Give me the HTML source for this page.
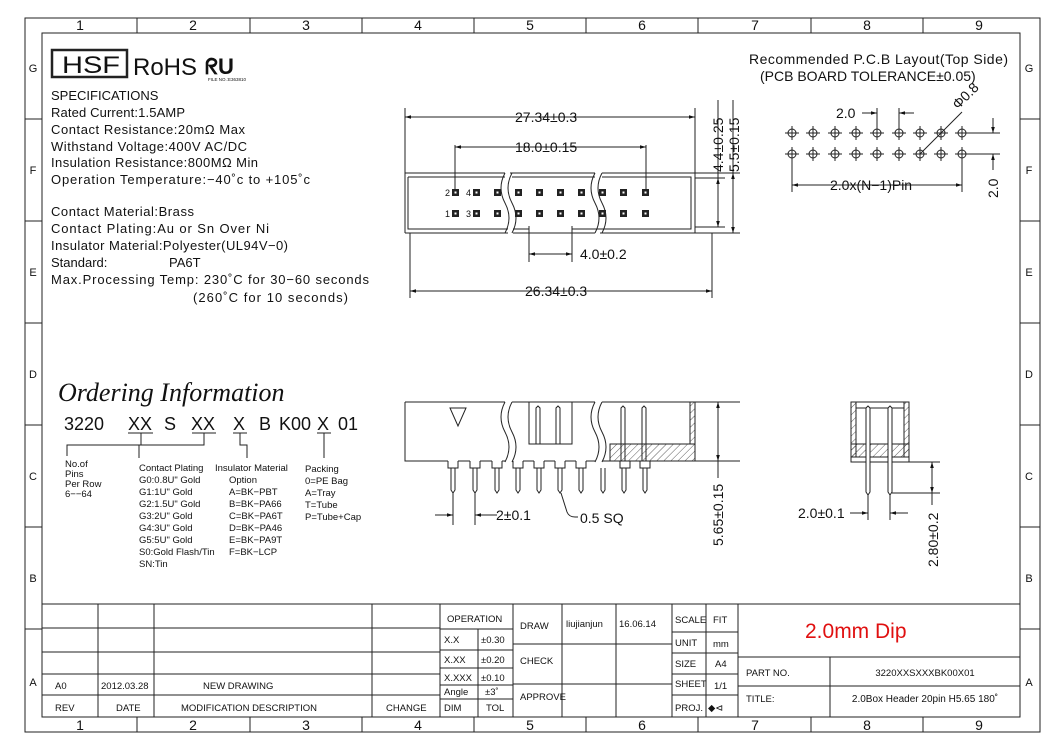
<!DOCTYPE html>
<html><head><meta charset="utf-8"><style>
html,body{margin:0;padding:0;background:#fff}
svg{display:block}
text{font-family:"Liberation Sans",sans-serif;fill:#111}
.s{font-size:13px}
.t{font-size:14px}
.sm{font-size:9.5px}
.tb{font-size:9.5px}
</style></head><body>
<svg width="1057" height="747" viewBox="0 0 1057 747" xmlns="http://www.w3.org/2000/svg">
<defs>
<pattern id="h" width="5" height="5" patternUnits="userSpaceOnUse" patternTransform="rotate(45)"><line x1="0" y1="0" x2="0" y2="5" stroke="#333" stroke-width="0.8"/></pattern>
<marker id="a" viewBox="0 0 10 10" refX="10" refY="5" markerWidth="9" markerHeight="6" orient="auto-start-reverse"><path d="M0,2 L10,5 L0,8z" fill="#111"/></marker>
</defs>
<g fill="none" stroke="#222" stroke-width="1">
<rect x="25" y="18" width="1015" height="714"/>
<rect x="42" y="33" width="978" height="684"/>
<path d="M137,18V33 M250,18V33 M362,18V33 M474,18V33 M586,18V33 M698,18V33 M811,18V33 M923,18V33"/>
<path d="M137,717V732 M250,717V732 M362,717V732 M474,717V732 M586,717V732 M698,717V732 M811,717V732 M923,717V732"/>
<path d="M25,119H42 M25,221H42 M25,323H42 M25,425H42 M25,527H42 M25,629H42"/>
<path d="M1020,119H1040 M1020,221H1040 M1020,323H1040 M1020,425H1040 M1020,527H1040 M1020,629H1040"/>
<path d="M42,604H1020 M42,628H440 M42,652H440 M42,674H440 M42,695H440 M98,604V717 M154,604V717 M372,604V717 M440,604V717"/>
<path d="M440,629H513 M440,650H513 M440,668H513 M440,685H513 M440,699H513 M478,629V717 M513,604V717"/>
<path d="M513,644H672 M513,684H672 M562,604V717 M616,604V717 M672,604V717 M706,604V717 M738,604V717"/>
<path d="M672,632H738 M672,653H738 M672,674H738 M672,695H738"/>
<path d="M738,657H1020 M738,686H1020 M830,657V717"/>
<rect x="52" y="50" width="75" height="27" stroke-width="2.5"/>
<path d="M405,173H505 M510,173H595 M602,173H695 M405,233H508 M513,233H595 M600,233H695 M405,173V233 M695,173V233"/>
<path d="M408,177H505 M512,177H595 M602,177H691V229H572V226 M408,177V229H508 M513,229H529V226"/>
<path d="M505,173 q-8,15 0,30 q8,15 0,30 M512,173 q-8,15 0,30 q8,15 0,30 M595,173 q-8,15 0,30 q8,15 0,30 M602,173 q-8,15 0,30 q8,15 0,30"/>
<path d="M695,173H740 M695,178H725 M695,227H725 M695,233H740"/>
<path d="M405,108V173 M695,108V173 M455,145V190 M646,145V190"/>
<line x1="405" y1="117" x2="695" y2="117" marker-start="url(#a)" marker-end="url(#a)"/>
<line x1="455" y1="147" x2="646" y2="147" marker-start="url(#a)" marker-end="url(#a)"/>
<path d="M529,229V262 M572,229V262"/>
<line x1="529" y1="254" x2="572" y2="254" marker-start="url(#a)" marker-end="url(#a)"/>
<path d="M410,233V298 M712,233V298"/>
<line x1="410" y1="291" x2="712" y2="291" marker-start="url(#a)" marker-end="url(#a)"/>
<line x1="718" y1="178" x2="718" y2="227" marker-start="url(#a)" marker-end="url(#a)"/>
<line x1="733" y1="173" x2="733" y2="233" marker-start="url(#a)" marker-end="url(#a)"/>
<path d="M718,100V178 M733,100V173"/>
<path d="M405,402H505 M512,402H595 M602,402H695V461 M405,402V461H448 M458,461H470 M480,461H492 M502,461H505 M512,461H513 M523,461H534 M544,461H555 M565,461H576 M586,461H595 M602,461H620 M630,461H640 M650,461H695"/>
<path d="M505,402 q-8,15 0,30 q8,15 0,30 M512,402 q-8,15 0,30 q8,15 0,30 M595,402 q-8,15 0,30 q8,15 0,30 M602,402 q-8,15 0,30 q8,15 0,30"/>
<path d="M448,461V468H458V461 M470,461V468H480V461 M492,461V468H502V461 M513,461V468H523V461 M534,461V468H544V461 M555,461V468H565V461 M576,461V468H586V461 M620,461V468H630V461 M640,461V468H650V461"/>
<path d="M529,402V444H572V402"/>
<rect x="610" y="444" width="85" height="17" fill="url(#h)"/>
<rect x="690" y="402" width="5" height="42" fill="url(#h)"/>
<path d="M610,444H690"/>
<path d="M450,408H466L458,426Z"/>
<path d="M695,402H740 M695,461H740"/>
<line x1="718" y1="402" x2="718" y2="461" marker-start="url(#a)" marker-end="url(#a)"/>
<path d="M718,461V478"/>
<path d="M451,468V490l2,3l2,-3V468 M473,468V490l2,3l2,-3V468 M495,468V490l2,3l2,-3V468 M516,468V490l2,3l2,-3V468 M537,468V490l2,3l2,-3V468 M558,468V490l2,3l2,-3V468 M579,468V490l2,3l2,-3V468 M601,468V490l2,3l2,-3V468 M622,468V490l2,3l2,-3V468 M643,468V490l2,3l2,-3V468"/>
<path d="M536,444V408l2,-2l2,2V444 M556,444V408l2,-2l2,2V444 M621,461V408l2,-2l2,2V461 M642,461V408l2,-2l2,2V461"/>
<path d="M453,493V525 M475,493V525"/>
<line x1="435" y1="515" x2="453" y2="515" marker-end="url(#a)"/>
<line x1="493" y1="515" x2="475" y2="515" marker-end="url(#a)"/>
<path d="M493,515H497 M561,493 L567,512 Q569,517 575,517H578"/>
<rect x="851" y="402" width="58" height="60"/>
<rect x="851" y="402" width="5" height="55" fill="url(#h)"/>
<rect x="904" y="402" width="5" height="55" fill="url(#h)"/>
<rect x="851" y="444" width="58" height="13" fill="url(#h)"/>
<path d="M856,408H904V444H856"/>
<path d="M866,492V408l2,-2l2,2V492l-2,3z M888,492V408l2,-2l2,2V492l-2,3z" fill="#fff"/>
<path d="M868,495V520 M890,495V520 M909,462H940 M892,493H940"/>
<line x1="850" y1="513" x2="868" y2="513" marker-end="url(#a)"/>
<line x1="908" y1="513" x2="890" y2="513" marker-end="url(#a)"/>
<line x1="932" y1="462" x2="932" y2="493" marker-start="url(#a)" marker-end="url(#a)"/>
<path d="M932,493V505"/>
<g stroke-width="1">
<path d="M792,126V140M785,133H799M813,126V140M806,133H820M835,126V140M828,133H842M856,126V140M849,133H863M877,126V140M870,133H884M899,126V140M892,133H906M920,126V140M913,133H927M941,126V140M934,133H948M962,126V140M955,133H969"/>
<path d="M792,147V161M785,154H799M813,147V161M806,154H820M835,147V161M828,154H842M856,147V161M849,154H863M877,147V161M870,154H884M899,147V161M892,154H906M920,147V161M913,154H927M941,147V161M934,154H948M962,147V161M955,154H969"/>
<circle cx="792" cy="133" r="4"/><circle cx="813" cy="133" r="4"/><circle cx="835" cy="133" r="4"/><circle cx="856" cy="133" r="4"/><circle cx="877" cy="133" r="4"/><circle cx="899" cy="133" r="4"/><circle cx="920" cy="133" r="4"/><circle cx="941" cy="133" r="4"/><circle cx="962" cy="133" r="4"/>
<circle cx="792" cy="154" r="4"/><circle cx="813" cy="154" r="4"/><circle cx="835" cy="154" r="4"/><circle cx="856" cy="154" r="4"/><circle cx="877" cy="154" r="4"/><circle cx="899" cy="154" r="4"/><circle cx="920" cy="154" r="4"/><circle cx="941" cy="154" r="4"/><circle cx="962" cy="154" r="4"/>
</g>
<path d="M877,108V133 M899,108V133 M792,154V192 M962,154V192 M962,133H1000 M962,154H1000 M920,154 L962,112"/>
<line x1="862" y1="113" x2="877" y2="113" marker-end="url(#a)"/>
<line x1="914" y1="113" x2="899" y2="113" marker-end="url(#a)"/>
<line x1="792" y1="185" x2="962" y2="185" marker-start="url(#a)" marker-end="url(#a)"/>
<line x1="993" y1="118" x2="993" y2="133" marker-end="url(#a)"/>
<line x1="993" y1="170" x2="993" y2="154" marker-end="url(#a)"/>
<path d="M128,433H153 M192,433H216 M233,433H247 M317,433H331"/>
<path d="M141,433V445H67V456 M204,433V445H139V458 M240,433V445H247V458 M324,433V458"/>
</g>
<g fill="#222">
<g id="pr"><rect x="452" y="189" width="7" height="7"/><rect x="473" y="189" width="7" height="7"/><rect x="494" y="189" width="7" height="7"/><rect x="515" y="189" width="7" height="7"/><rect x="536" y="189" width="7" height="7"/><rect x="557" y="189" width="7" height="7"/><rect x="578" y="189" width="7" height="7"/><rect x="599" y="189" width="7" height="7"/><rect x="620" y="189" width="7" height="7"/><rect x="642" y="189" width="7" height="7"/></g>
<use href="#pr" y="21"/>
</g>
<g fill="#fff"><g id="pd"><rect x="454.5" y="191.5" width="2" height="2"/><rect x="475.5" y="191.5" width="2" height="2"/><rect x="496.5" y="191.5" width="2" height="2"/><rect x="517.5" y="191.5" width="2" height="2"/><rect x="538.5" y="191.5" width="2" height="2"/><rect x="559.5" y="191.5" width="2" height="2"/><rect x="580.5" y="191.5" width="2" height="2"/><rect x="601.5" y="191.5" width="2" height="2"/><rect x="622.5" y="191.5" width="2" height="2"/><rect x="644.5" y="191.5" width="2" height="2"/></g><use href="#pd" y="21"/></g>
<g class="t" text-anchor="middle">
<text x="80" y="30">1</text><text x="193" y="30">2</text><text x="306" y="30">3</text><text x="418" y="30">4</text><text x="530" y="30">5</text><text x="642" y="30">6</text><text x="755" y="30">7</text><text x="867" y="30">8</text><text x="979" y="30">9</text>
<text x="80" y="730">1</text><text x="193" y="730">2</text><text x="306" y="730">3</text><text x="418" y="730">4</text><text x="530" y="730">5</text><text x="642" y="730">6</text><text x="755" y="730">7</text><text x="867" y="730">8</text><text x="979" y="730">9</text>
</g>
<g font-size="11" text-anchor="middle">
<text x="33" y="72">G</text><text x="33" y="174">F</text><text x="33" y="276">E</text><text x="33" y="378">D</text><text x="33" y="480">C</text><text x="33" y="582">B</text><text x="33" y="686">A</text>
<text x="1029" y="72">G</text><text x="1029" y="174">F</text><text x="1029" y="276">E</text><text x="1029" y="378">D</text><text x="1029" y="480">C</text><text x="1029" y="582">B</text><text x="1029" y="686">A</text>
</g>
<text x="62" y="73" font-size="24" textLength="58" lengthAdjust="spacingAndGlyphs">HSF</text>
<text x="133" y="75" font-size="24">RoHS</text>
<text x="205" y="74" font-size="22" font-weight="bold">ᖇU</text>
<text x="208" y="81" font-size="4.5">FILE NO.:E363810</text>
<g class="s" lengthAdjust="spacing">
<text x="51" y="100">SPECIFICATIONS</text>
<text x="51" y="117" textLength="134">Rated  Current:1.5AMP</text>
<text x="51" y="134" textLength="194">Contact  Resistance:20mΩ  Max</text>
<text x="51" y="151" textLength="196">Withstand  Voltage:400V  AC/DC</text>
<text x="51" y="167" textLength="207">Insulation  Resistance:800MΩ  Min</text>
<text x="51" y="184" textLength="259">Operation  Temperature:−40˚c  to  +105˚c</text>
<text x="51" y="216" textLength="143">Contact  Material:Brass</text>
<text x="51" y="233" textLength="218">Contact  Plating:Au  or  Sn  Over  Ni</text>
<text x="51" y="250" textLength="237">Insulator  Material:Polyester(UL94V−0)</text>
<text x="51" y="267">Standard:</text><text x="169" y="267">PA6T</text>
<text x="51" y="284" textLength="318">Max.Processing  Temp:  230˚C  for  30−60  seconds</text>
<text x="193" y="302" textLength="155">(260˚C  for  10  seconds)</text>
</g>
<text x="58" y="401" font-size="26" font-style="italic" style="font-family:'Liberation Serif',serif">Ordering Information</text>
<g font-size="18">
<text x="64" y="430">3220</text><text x="128" y="430">XX</text><text x="164" y="430">S</text><text x="191" y="430">XX</text><text x="233" y="430">X</text><text x="259" y="430">B</text><text x="279" y="430">K00</text><text x="317" y="430">X</text><text x="338" y="430">01</text>
</g>
<g class="sm">
<text x="65" y="467">No.of</text><text x="65" y="477">Pins</text><text x="65" y="487">Per Row</text><text x="65" y="497">6−−64</text>
<text x="139" y="471">Contact  Plating</text><text x="139" y="483">G0:0.8U" Gold</text><text x="139" y="495">G1:1U"  Gold</text><text x="139" y="507">G2:1.5U"  Gold</text><text x="139" y="519">G3:2U"  Gold</text><text x="139" y="531">G4:3U"  Gold</text><text x="139" y="543">G5:5U"  Gold</text><text x="139" y="555">S0:Gold  Flash/Tin</text><text x="139" y="567">SN:Tin</text>
<text x="215" y="471">Insulator  Material</text><text x="229" y="483">Option</text><text x="229" y="495">A=BK−PBT</text><text x="229" y="507">B=BK−PA66</text><text x="229" y="519">C=BK−PA6T</text><text x="229" y="531">D=BK−PA46</text><text x="229" y="543">E=BK−PA9T</text><text x="229" y="555">F=BK−LCP</text>
<text x="305" y="472">Packing</text><text x="305" y="484">0=PE  Bag</text><text x="305" y="496">A=Tray</text><text x="305" y="508">T=Tube</text><text x="305" y="520">P=Tube+Cap</text>
</g>
<g class="t">
<text x="515" y="122">27.34±0.3</text>
<text x="515" y="152">18.0±0.15</text>
<text x="580" y="259">4.0±0.2</text>
<text x="525" y="296">26.34±0.3</text>
<text transform="translate(723,172) rotate(-90)">4.4±0.25</text>
<text transform="translate(739,172) rotate(-90)">5.5±0.15</text>
<text x="496" y="520">2±0.1</text>
<text x="580" y="523">0.5  SQ</text>
<text transform="translate(723,546) rotate(-90)">5.65±0.15</text>
<text x="798" y="518">2.0±0.1</text>
<text transform="translate(938,567) rotate(-90)">2.80±0.2</text>
<text x="749" y="64" textLength="259" lengthAdjust="spacing">Recommended  P.C.B  Layout(Top Side)</text>
<text x="760" y="81">(PCB  BOARD  TOLERANCE±0.05)</text>
<text x="836" y="118">2.0</text>
<text x="830" y="190">2.0x(N−1)Pin</text>
<text transform="translate(998,198) rotate(-90)">2.0</text>
<text transform="translate(958,110) rotate(-45)">Φ0.8</text>
</g>
<g font-size="9">
<text x="445" y="196">2</text><text x="466" y="196">4</text><text x="445" y="217">1</text><text x="466" y="217">3</text>
</g>
<g class="tb">
<text x="55" y="689">A0</text><text x="101" y="689">2012.03.28</text><text x="203" y="689">NEW  DRAWING</text>
<text x="55" y="711">REV</text><text x="116" y="711">DATE</text><text x="181" y="711">MODIFICATION  DESCRIPTION</text><text x="386" y="711">CHANGE</text>
<text x="447" y="622">OPERATION</text>
<text x="444" y="643">X.X</text><text x="481" y="643">±0.30</text>
<text x="444" y="663">X.XX</text><text x="481" y="663">±0.20</text>
<text x="444" y="681">X.XXX</text><text x="481" y="681">±0.10</text>
<text x="444" y="695">Angle</text><text x="485" y="695">±3˚</text>
<text x="444" y="711">DIM</text><text x="486" y="711">TOL</text>
<text x="520" y="629">DRAW</text><text x="520" y="664">CHECK</text><text x="520" y="700">APPROVE</text>
<text x="566" y="627">liujianjun</text><text x="619" y="627">16.06.14</text>
<text x="675" y="623">SCALE</text><text x="713" y="623">FIT</text>
<text x="675" y="646">UNIT</text><text x="713" y="647">mm</text>
<text x="675" y="667">SIZE</text><text x="715" y="667">A4</text>
<text x="675" y="687">SHEET</text><text x="714" y="689">1/1</text>
<text x="675" y="711">PROJ.</text><text x="708" y="711">◆⊲</text>
<text x="746" y="676">PART  NO.</text><text x="925" y="676" text-anchor="middle">3220XXSXXXBK00X01</text>
<text x="746" y="702">TITLE:</text><text x="925" y="702" text-anchor="middle" font-size="10">2.0Box  Header  20pin  H5.65  180˚</text>
</g>
<text x="805" y="638" font-size="21" style="fill:#e01010">2.0mm Dip</text>
</svg>
</body></html>
